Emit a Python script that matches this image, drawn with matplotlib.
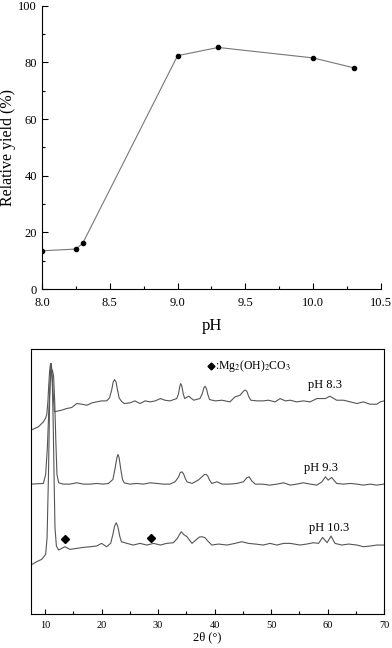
import numpy as np
import matplotlib
matplotlib.use("Agg")
import matplotlib.pyplot as plt
from matplotlib.ticker import MultipleLocator, FormatStrFormatter

plt.rcParams["font.family"] = ["Liberation Serif", "DejaVu Serif"]
plt.rcParams["mathtext.fontset"] = "stix"

# --- relative yield vs pH ---
ph = [8.0, 8.25, 8.3, 9.0, 9.3, 10.0, 10.3]
yield_pct = [13.5, 14.1, 16.1, 82.4, 85.3, 81.6, 78.1]

# --- XRD patterns (2theta in degrees, intensity in arbitrary units, offset) ---
tt_83 = [7.5, 8.8, 9.7, 10.1, 10.3, 10.5, 10.65, 10.8, 10.92, 11.0, 11.1,
         11.22, 11.35, 11.5, 11.65, 12.1, 12.9,
         13.8, 14.7, 15.6, 16.5, 17.4, 18.3, 19.1, 20.0, 20.9, 21.4, 21.8,
         22.05, 22.3, 22.55, 22.8, 23.1, 23.5, 24.0, 25.0, 25.9, 26.8, 27.7,
         28.6, 29.5, 30.4, 31.2, 32.1, 33.3, 33.6, 33.85, 34.0, 34.2, 34.45,
         34.7, 35.4, 36.3, 37.4, 37.8, 38.1, 38.3, 38.55, 38.8, 39.1,
         40.1, 41.3, 42.7, 43.6, 44.5, 45.0, 45.3, 45.5, 45.75, 46.0, 46.4,
         47.5, 48.6, 49.5, 50.7, 51.6, 52.5, 53.4, 54.5, 55.7, 56.9, 58.1,
         59.6, 60.4, 61.6, 62.8, 64.0, 65.2, 66.3, 67.5, 68.7, 69.3, 70.0]
int_83 = [553, 563, 578, 590, 600, 640, 690, 730, 748, 753, 748,
          725, 690, 640, 608, 610, 613,
          618, 621, 633, 631, 628, 635, 638, 641, 641, 650, 675,
          698, 705, 698, 675, 650, 640, 633, 635, 641, 633, 641,
          638, 641, 648, 643, 641, 648, 662, 685, 693, 685, 662,
          648, 655, 643, 648, 662, 680, 685, 678, 660, 645,
          641, 643, 638, 653, 658, 668, 673, 673, 668, 655, 643,
          641, 641, 643, 638, 648, 641, 643, 638, 641, 638, 648,
          648, 655, 643, 643, 638, 633, 638, 631, 631, 638, 641]

tt_93 = [7.5, 9.7, 10.1, 10.4, 10.65, 10.9, 11.1, 11.3, 11.5, 11.7, 11.9,
         12.1, 12.4, 13.2, 14.4, 15.6, 16.8, 18.0, 19.1, 20.3, 21.2, 22.0,
         22.4, 22.7, 22.9, 23.1, 23.4, 23.7, 24.0, 25.0, 26.2, 27.4, 28.6,
         29.8, 30.9, 32.1, 33.0, 33.6, 33.9, 34.2, 34.5, 34.8, 35.1, 36.0,
         37.1, 37.7, 38.2, 38.5, 38.8, 39.1, 39.5, 40.4, 41.3, 42.7, 43.9,
         45.1, 45.7, 46.1, 46.6, 47.2, 48.4, 49.8, 51.0, 52.2, 53.4, 54.5,
         55.7, 56.9, 58.1, 59.0, 59.6, 60.1, 60.7, 61.6, 62.8, 64.0, 65.2,
         66.3, 67.5, 68.7, 69.9]
int_93 = [391, 393, 420, 500, 610, 695, 728, 733, 715, 640, 520,
          420, 395, 391, 391, 395, 391, 391, 393, 391, 393, 405,
          440, 470, 480, 470, 435, 405, 395, 391, 393, 391, 395,
          393, 391, 391, 398, 412, 425, 428, 422, 408, 398, 393,
          403, 412, 420, 420, 415, 403, 393, 398, 391, 391, 393,
          398, 410, 413, 400, 391, 391, 388, 391, 395, 388, 391,
          395, 391, 388, 398, 413, 403, 411, 393, 391, 393, 391,
          388, 391, 388, 391]

tt_103 = [7.5, 8.5, 9.4, 10.1, 10.35, 10.6, 10.8, 10.95, 11.05, 11.15,
          11.3, 11.45, 11.6, 11.75, 12.0, 12.4,
          13.5, 14.4, 15.6, 16.8, 18.0, 19.1, 20.0, 20.9, 21.6, 22.0, 22.3,
          22.6, 22.9, 23.2, 23.5, 24.5, 25.6, 26.8, 28.0, 29.2, 30.4, 31.5,
          32.7, 33.4, 33.8, 34.1, 34.5, 35.1, 36.0, 36.8, 37.3, 37.8, 38.3,
          38.8, 39.5, 40.7, 42.2, 43.6, 44.8, 46.0, 47.2, 48.6, 49.8, 51.0,
          52.2, 53.4, 55.1, 56.3, 57.5, 58.4, 59.1, 59.9, 60.6, 61.3, 62.5,
          63.7, 65.2, 66.3, 67.5, 68.7, 70.0]
int_103 = [148, 158, 165, 180, 230, 420, 640, 730, 753, 740,
           680, 560, 400, 260, 205, 193,
           203, 195, 198, 201, 203, 205, 213, 203, 213, 240, 265,
           275, 262, 235, 218, 213, 208, 213, 208, 213, 208, 213,
           215, 228, 240, 248, 240, 233, 213, 225, 232, 233, 230,
           220, 208, 211, 208, 213, 218, 213, 211, 208, 213, 208,
           213, 213, 208, 211, 215, 213, 231, 215, 235, 213, 208,
           211, 208, 203, 205, 208, 208]

marker_tt = [13.5, 28.8]
marker_int = [225, 230]
pattern_labels = ["pH 8.3", "pH 9.3", "pH 10.3"]
label_pos = [(59.6, 688), (58.8, 438), (60.3, 258)]

fig = plt.figure(figsize=(3.92, 6.48), dpi=100)

# top panel
ax1 = fig.add_axes([0.107, 0.554, 0.865, 0.437])
ax1.plot(ph, yield_pct, color="#777777", linewidth=0.8, marker="o",
         markersize=3, markerfacecolor="black", markeredgecolor="black")
ax1.set_xlim(8.0, 10.5)
ax1.set_ylim(0, 100)
ax1.xaxis.set_major_locator(MultipleLocator(0.5))
ax1.xaxis.set_minor_locator(MultipleLocator(0.25))
ax1.yaxis.set_major_locator(MultipleLocator(20))
ax1.yaxis.set_minor_locator(MultipleLocator(10))
ax1.spines["top"].set_visible(False)
ax1.spines["right"].set_visible(False)
ax1.tick_params(which="both", direction="in", labelsize=9, width=0.8)
ax1.tick_params(axis="x", pad=6)
ax1.tick_params(which="major", length=4)
ax1.tick_params(which="minor", length=2)
ax1.xaxis.set_major_formatter(FormatStrFormatter("%.1f"))
ax1.set_xlabel("pH", fontsize=12, labelpad=6)
ax1.set_ylabel("Relative yield (%)", fontsize=11.5, labelpad=2)

# bottom panel
ax2 = fig.add_axes([0.079, 0.052, 0.901, 0.409])
for tt, inten in [(tt_83, int_83), (tt_93, int_93), (tt_103, int_103)]:
    ax2.plot(tt, inten, color="#555555", linewidth=0.8)
ax2.plot(marker_tt, marker_int, linestyle="none", marker="D", markersize=4,
         color="black")
ax2.plot([39.4], [746], linestyle="none", marker="D", markersize=3.5,
         color="black")
ax2.text(40.0, 746, r":Mg$_2$(OH)$_2$CO$_3$", fontsize=8.5, va="center",
         ha="left")
for lab, (x, y) in zip(pattern_labels, label_pos):
    ax2.text(x, y, lab, fontsize=9, ha="center", va="center")
ax2.set_xlim(7.5, 70)
ax2.set_ylim(0, 796)
ax2.xaxis.set_major_locator(MultipleLocator(10))
ax2.xaxis.set_minor_locator(MultipleLocator(5))
ax2.set_yticks([])
ax2.tick_params(which="both", direction="in", labelsize=7.5, width=0.8, pad=5)
ax2.tick_params(which="major", length=3.5)
ax2.tick_params(which="minor", length=2)
ax2.set_xlabel("2θ (°)", fontsize=9, labelpad=1)

fig.savefig("out.png", dpi=100)
